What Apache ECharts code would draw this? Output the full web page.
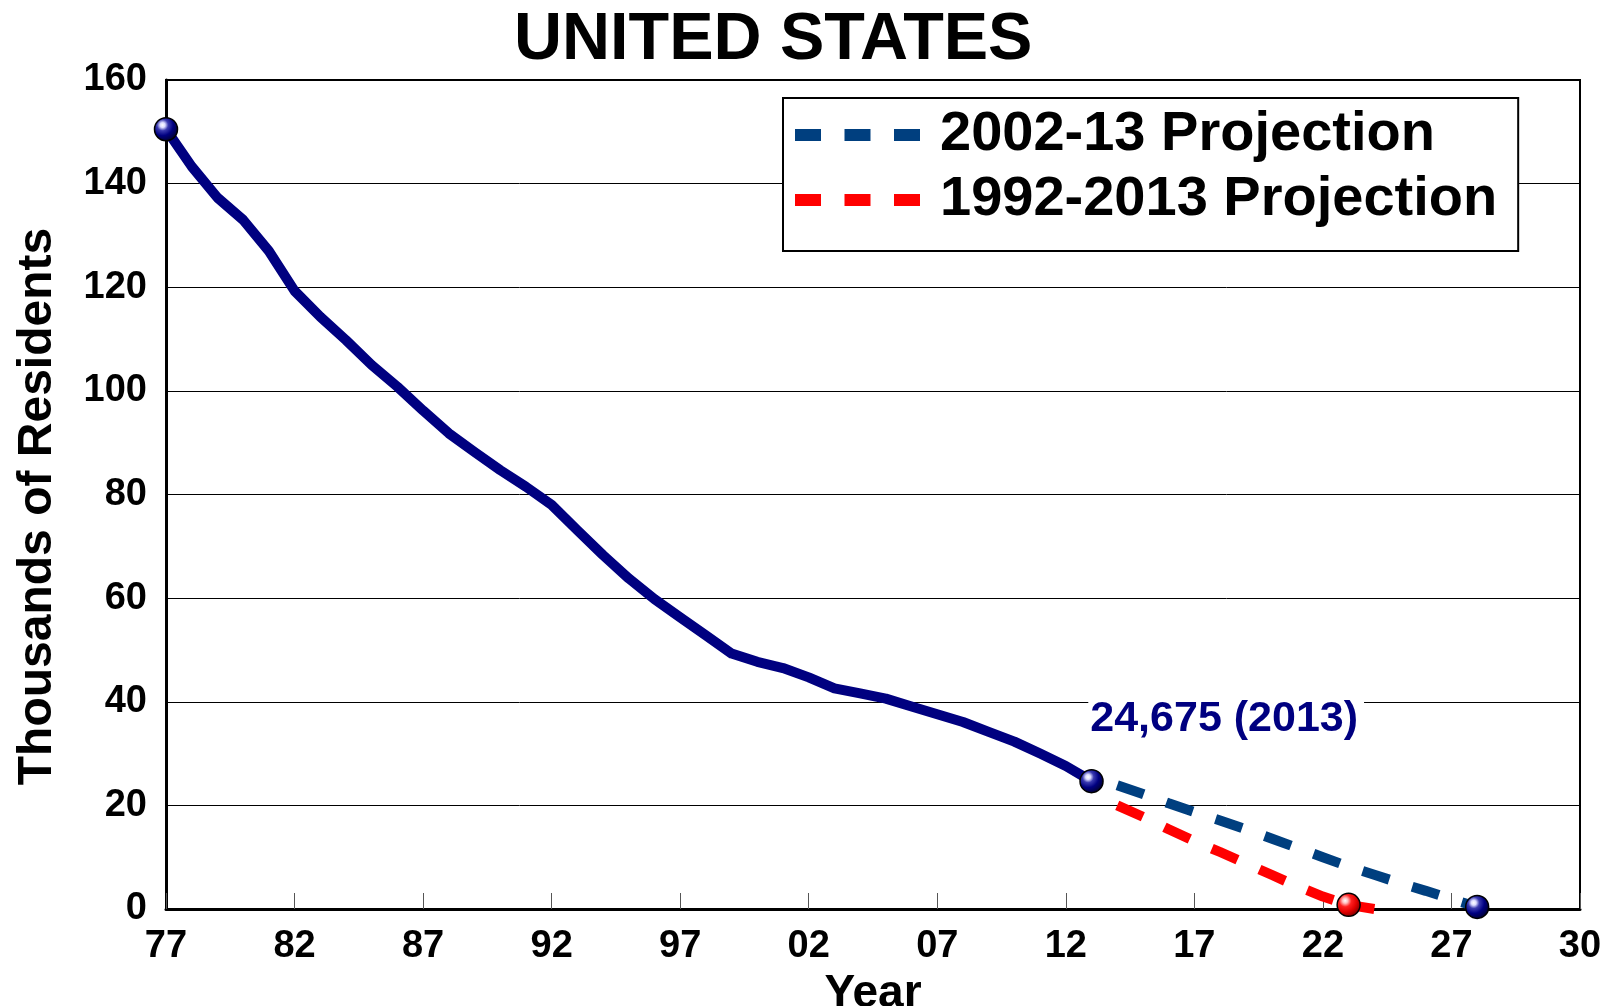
<!DOCTYPE html>
<html>
<head>
<meta charset="utf-8">
<script src="https://cdn.jsdelivr.net/npm/echarts@6/dist/echarts.min.js"></script>
<style>
html,body{margin:0;padding:0;background:#fff;}
#chart{width:1612px;height:1006px;}
</style>
</head>
<body>
<div id="chart"></div>
<script>
// ---- data ----
const histYears = [1977,1978,1979,1980,1981,1982,1983,1984,1985,1986,1987,1988,1989,1990,1991,1992,1993,1994,1995,1996,1997,1998,1999,2000,2001,2002,2003,2004,2005,2006,2007,2008,2009,2010,2011,2012,2013];
const histValues = [150.5,143.3,137.3,133.0,127.0,119.3,114.3,109.8,105.0,100.8,96.2,91.8,88.2,84.7,81.5,78.0,73.1,68.3,63.8,59.8,56.3,52.8,49.3,47.7,46.5,44.7,42.6,41.6,40.6,39.1,37.6,36.1,34.2,32.3,30.0,27.6,24.675];
const proj0213Years = [2014,2015,2016,2017,2018,2019,2020,2021,2022,2023,2024,2025,2026,2027,2028];
const proj0213Values = [23.9,22.2,20.4,18.7,17.1,15.4,13.6,11.8,10.0,8.2,6.6,5.0,3.5,1.9,0.4];
const proj9213Years = [2014,2015,2016,2017,2018,2019,2020,2021,2022,2023,2024];
const proj9213Values = [20.0,17.8,15.4,13.1,11.0,8.8,6.6,4.4,2.4,0.8,0.0];
const histMarkerYears = [1977,2013];
const proj0213MarkerYears = [2028];
const proj9213MarkerYears = [2023];
const xTickValues = [1977,1982,1987,1992,1997,2002,2007,2012,2017,2022,2027,2032];
const xTickLabels = ['77','82','87','92','97','02','07','12','17','22','27','30'];
const seriesNames = ['2002-13 Projection','1992-2013 Projection'];
const annotationText = '24,675 (2013)';
const titleText = 'UNITED STATES';

// ---- styles ----
const FONT = '"Liberation Sans", Arial, Helvetica, sans-serif';
const navyBall = {type:'radial',x:0.36,y:0.33,r:0.72,colorStops:[
  {offset:0,color:'#ffffff'},{offset:0.14,color:'#dcdcff'},{offset:0.32,color:'#3a3ab0'},{offset:0.6,color:'#000080'},{offset:1,color:'#000028'}]};
const redBall = {type:'radial',x:0.36,y:0.33,r:0.72,colorStops:[
  {offset:0,color:'#ffffff'},{offset:0.15,color:'#ffc0c0'},{offset:0.35,color:'#ff2020'},{offset:0.65,color:'#e00000'},{offset:1,color:'#700000'}]};

function build(years, values, markerYears, ball, lastLabel) {
  return years.map((y, i) => {
    const isM = markerYears.indexOf(y) >= 0;
    const d = {value:[y, values[i]], symbol: isM ? 'circle' : 'none', symbolSize: 23,
      itemStyle: isM ? {color: ball, borderColor:'#000', borderWidth:1.5} : undefined};
    if (lastLabel && i === years.length - 1) {
      d.label = {show:true, formatter: lastLabel, position:[9,-50], verticalAlign:'middle', align:'left',
        color:'#000080', fontSize:43, fontWeight:'bold', fontFamily:FONT,
        backgroundColor:'#fff', padding:[3,6,3,2]};
    }
    return d;
  });
}

const chart = echarts.init(document.getElementById('chart'), null, {renderer:'canvas'});
chart.setOption({
  animation:false,
  backgroundColor:'#fff',
  title:{text:titleText, left:514, top:7, padding:0,
    textStyle:{fontSize:66.5, fontWeight:'bold', color:'#000', fontFamily:FONT, lineHeight:67}},
  grid:{left:166, top:80, right:32, bottom:97, outerBoundsMode:'none', containLabel:false,
    show:true, borderColor:'#000', borderWidth:2, backgroundColor:'transparent'},
  legend:{
    data:seriesNames, orient:'vertical', left:783, top:98,
    backgroundColor:'#fff', borderColor:'#000', borderWidth:2,
    padding:[9,21,23,12], itemGap:9, itemWidth:125, itemHeight:12,
    icon:'path://M0,0h26v12h-26z M49.5,0h26v12h-26z M99,0h26v12h-26z',
    textStyle:{fontSize:56, fontWeight:'bold', color:'#000', fontFamily:FONT, lineHeight:56, padding:[0,0,0,15]}
  },
  xAxis:{
    type:'value', min:1977, max:2032,
    name:'Year', nameLocation:'middle', nameGap:56,
    nameTextStyle:{fontSize:46, fontWeight:'bold', color:'#000', fontFamily:FONT, lineHeight:46},
    axisLine:{show:true, onZero:false, lineStyle:{color:'#000', width:3}},
    axisTick:{show:true, inside:true, length:16, customValues:xTickValues, lineStyle:{color:'#555', width:1}},
    axisLabel:{show:true, customValues:xTickValues, margin:19, fontSize:38, fontWeight:'bold', color:'#000', fontFamily:FONT,
      formatter:(v)=>{const i = xTickValues.indexOf(Math.round(v)); return i>=0 ? xTickLabels[i] : '';}},
    splitLine:{show:false}
  },
  yAxis:{
    type:'value', min:0, max:160, interval:20,
    name:'Thousands of Residents', nameLocation:'middle', nameGap:104,
    nameTextStyle:{fontSize:48, fontWeight:'bold', color:'#000', fontFamily:FONT, padding:[0,24,0,0]},
    axisLine:{show:true, lineStyle:{color:'#000', width:3}},
    axisTick:{show:true, inside:true, length:16, lineStyle:{color:'#000', width:1}},
    axisLabel:{margin:19, fontSize:38, fontWeight:'bold', color:'#000', fontFamily:FONT},
    splitLine:{show:true, lineStyle:{color:'#000', width:1}}
  },
  series:[
    {name:'History', type:'line', z:3, showAllSymbol:true,
      data:build(histYears, histValues, histMarkerYears, navyBall, annotationText),
      lineStyle:{color:'#000080', width:10, join:'round'}, itemStyle:{color:'#000080'}},
    {name:seriesNames[0], type:'line', z:4, showAllSymbol:true,
      data:build(proj0213Years, proj0213Values, proj0213MarkerYears, navyBall),
      lineStyle:{color:'#003f7f', width:10, type:[28,24], cap:'butt'}, itemStyle:{color:'#003f7f'}},
    {name:seriesNames[1], type:'line', z:4, showAllSymbol:true,
      data:build(proj9213Years, proj9213Values, proj9213MarkerYears, redBall),
      lineStyle:{color:'#ff0000', width:10, type:[28,24], cap:'butt'}, itemStyle:{color:'#ff0000'}}
  ]
});
</script>
</body>
</html>
